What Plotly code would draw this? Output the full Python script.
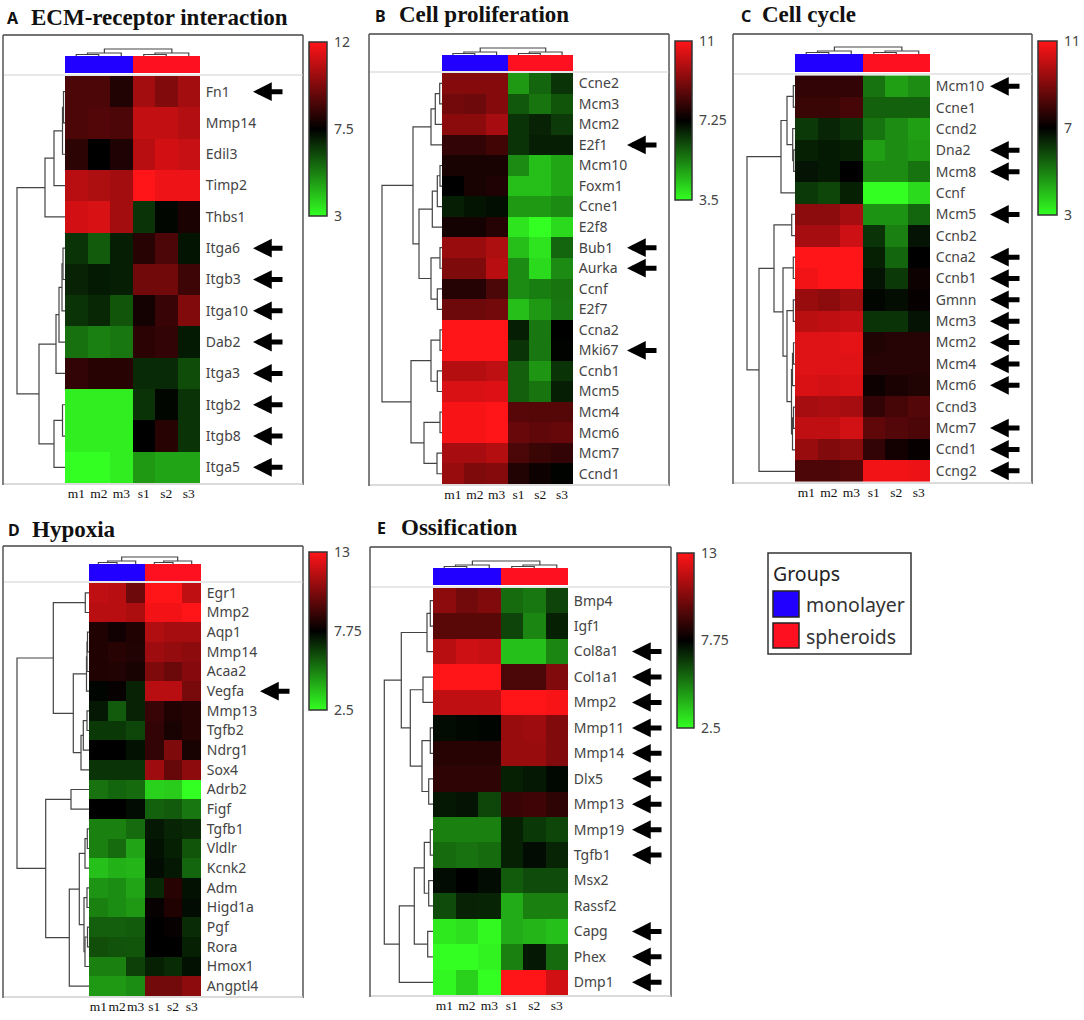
import plotly.graph_objects as go

W, H = 1084, 1020

SAMPLES = ["m1", "m2", "m3", "s1", "s2", "s3"]
GROUP_IDS = [0, 0, 0, 1, 1, 1]
GROUP_NAMES = ["monolayer", "spheroids"]

# sample tree, same shape in every panel: (left, right, height), nodes numbered from 6
COL_LINKS = [(0, 1, 1.5), (6, 2, 3), (3, 4, 1.5), (8, 5, 3), (7, 9, 7)]

# A
ecm_genes = ["Fn1", "Mmp14", "Edil3", "Timp2", "Thbs1", "Itga6", "Itgb3", "Itga10", "Dab2", "Itga3", "Itgb2", "Itgb8", "Itga5"]
ecm_arrows = ["Fn1", "Itga6", "Itgb3", "Itga10", "Dab2", "Itga3", "Itgb2", "Itgb8", "Itga5"]
ecm_values = [
    [8.85, 8.85, 8.1, 10.4, 9.75, 10.4],
    [8.85, 8.95, 8.85, 10.9, 10.9, 10.65],
    [8.3, 7.5, 8.05, 10.75, 11.2, 11.0],
    [10.75, 10.55, 10.4, 12, 11.7, 11.7],
    [11.2, 11.3, 10.4, 6.6, 7.4, 7.95],
    [6.6, 5.9, 6.95, 8.2, 8.85, 7.15],
    [6.9, 7.05, 6.95, 9.5, 9.5, 8.6],
    [6.6, 6.8, 6.0, 7.85, 8.5, 9.75],
    [5.5, 5.25, 5.4, 8.25, 8.4, 7.05],
    [8.4, 8.2, 8.2, 6.75, 6.75, 6.15],
    [3.3, 3.3, 3.3, 6.6, 7.4, 6.6],
    [3.3, 3.3, 3.3, 7.5, 8.2, 6.6],
    [3, 3, 3.3, 4.8, 4.6, 4.6],
]
ecm_links = [(0, 1, 1.5), (13, 2, 2.5), (14, 3, 11), (15, 4, 20), (5, 6, 2), (17, 7, 3), (18, 8, 6), (19, 9, 9),
             (10, 11, 2.5), (21, 12, 11), (20, 22, 26), (16, 23, 48)]

# B
prolif_genes = ["Ccne2", "Mcm3", "Mcm2", "E2f1", "Mcm10", "Foxm1", "Ccne1", "E2f8", "Bub1", "Aurka", "Ccnf", "E2f7",
                "Ccna2", "Mki67", "Ccnb1", "Mcm5", "Mcm4", "Mcm6", "Mcm7", "Ccnd1"]
prolif_arrows = ["E2f1", "Bub1", "Aurka", "Mki67"]
prolif_values = [
    [9.2, 9.2, 9.2, 5.0, 5.75, 6.5],
    [8.95, 8.85, 9.2, 5.95, 5.55, 6.0],
    [9.3, 9.3, 9.7, 6.5, 6.75, 6.4],
    [8.0, 8.0, 8.2, 6.5, 6.8, 6.8],
    [7.6, 7.6, 7.6, 5.2, 4.45, 4.8],
    [7.25, 7.6, 7.7, 4.45, 4.45, 4.8],
    [6.8, 6.95, 7.05, 5.0, 5.0, 5.2],
    [7.55, 7.55, 7.8, 3.9, 3.5, 4.05],
    [9.5, 9.5, 9.8, 4.45, 3.9, 5.75],
    [9.1, 9.1, 9.95, 5.2, 4.05, 5.2],
    [7.8, 7.8, 8.35, 5.2, 5.4, 5.55],
    [8.85, 8.85, 8.95, 4.45, 5.0, 5.5],
    [11, 11, 11, 6.8, 5.5, 7.25],
    [11, 11, 11, 6.5, 5.5, 7.2],
    [9.9, 9.9, 10.05, 5.85, 5.05, 6.5],
    [10.45, 10.45, 10.5, 5.85, 5.55, 6.8],
    [10.9, 10.9, 11, 8.55, 8.5, 8.5],
    [10.9, 10.9, 11, 8.8, 8.65, 8.75],
    [9.7, 9.7, 9.9, 8.35, 8.1, 8.0],
    [9.5, 9.1, 9.2, 7.75, 7.45, 7.2],
]
prolif_links = [(0, 1, 2.3), (20, 2, 6.7), (21, 3, 11), (4, 5, 2), (23, 6, 4.7), (24, 7, 9.7), (8, 9, 2), (10, 11, 4.7),
                (26, 27, 11), (25, 28, 23), (22, 29, 29), (12, 13, 2), (14, 15, 4.7), (31, 32, 11), (16, 17, 2),
                (18, 19, 5), (34, 35, 18), (33, 36, 31), (30, 37, 60)]

# C
cycle_genes = ["Mcm10", "Ccne1", "Ccnd2", "Dna2", "Mcm8", "Ccnf", "Mcm5", "Ccnb2", "Ccna2", "Ccnb1", "Gmnn", "Mcm3",
               "Mcm2", "Mcm4", "Mcm6", "Ccnd3", "Mcm7", "Ccnd1", "Ccng2"]
cycle_arrows = ["Mcm10", "Dna2", "Mcm8", "Mcm5", "Ccna2", "Ccnb1", "Gmnn", "Mcm3", "Mcm2", "Mcm4", "Mcm6", "Mcm7", "Ccnd1", "Ccng2"]
cycle_values = [
    [7.8, 7.8, 7.8, 5.2, 4.5, 4.8],
    [7.9, 7.9, 8.1, 5.5, 5.5, 5.5],
    [6.1, 6.4, 6.2, 5.2, 4.8, 4.5],
    [6.5, 6.6, 6.5, 4.5, 4.8, 4.6],
    [6.7, 6.6, 7.0, 4.8, 4.8, 5.2],
    [6.1, 5.9, 6.5, 3, 3, 3.6],
    [9.2, 9.2, 9.6, 4.7, 4.7, 5.4],
    [9.6, 9.6, 10.2, 6.2, 5, 6.7],
    [11, 11, 11, 6.5, 5.4, 7],
    [10.8, 11, 11, 6.7, 6.1, 7.2],
    [9.4, 9.2, 9.5, 6.9, 6.8, 7.1],
    [9.9, 10, 10.1, 6.2, 6.2, 6.7],
    [10.5, 10.5, 10.6, 7.5, 7.6, 7.6],
    [10.5, 10.5, 10.5, 7.6, 7.6, 7.6],
    [10.4, 10.3, 10.4, 7.2, 7.4, 7.5],
    [9.6, 9.7, 9.6, 7.8, 8.1, 8.3],
    [10, 10, 10.3, 8.5, 8.3, 8.2],
    [9.4, 9, 9.2, 7.8, 7.3, 7.1],
    [8.2, 8.2, 8.3, 10.8, 10.8, 10.7],
]
cycle_links = [(0, 1, 1.7), (3, 4, 1.3), (2, 20, 2.3), (19, 21, 8), (22, 5, 14), (6, 7, 3.3), (8, 9, 1.7), (10, 11, 1.7),
               (12, 13, 1.5), (27, 14, 2.5), (15, 16, 1.5), (29, 17, 2.5), (28, 30, 3.5), (26, 31, 8), (25, 32, 12),
               (24, 33, 21), (34, 18, 36), (23, 35, 48)]

# D
hypoxia_genes = ["Egr1", "Mmp2", "Aqp1", "Mmp14", "Acaa2", "Vegfa", "Mmp13", "Tgfb2", "Ndrg1", "Sox4", "Adrb2", "Figf",
                 "Tgfb1", "Vldlr", "Kcnk2", "Adm", "Higd1a", "Pgf", "Rora", "Hmox1", "Angptl4"]
hypoxia_arrows = ["Vegfa"]
hypoxia_values = [
    [11.7, 11.55, 10, 13, 13, 11.7],
    [11.55, 11.55, 11.3, 12.75, 12.75, 13],
    [8.4, 8.1, 8.4, 11.4, 11.15, 11.15],
    [8.4, 8.55, 8.45, 11, 10.8, 10.65],
    [8.4, 8.45, 8.25, 10.35, 9.95, 10.5],
    [7.65, 7.9, 7.05, 11.55, 11.55, 10.25],
    [7.25, 5.9, 7.05, 8.9, 8.4, 8.55],
    [6.6, 6.6, 6.3, 8.8, 8.25, 8.55],
    [7.75, 7.75, 7.4, 8.8, 10.35, 8.25],
    [6.7, 6.7, 6.7, 11, 9.85, 10.65],
    [5.4, 5.65, 5.55, 3.45, 3.55, 2.5],
    [7.75, 7.75, 7.5, 5.75, 5.9, 5.3],
    [5.1, 5.1, 5.55, 7.25, 7, 6.85],
    [5.1, 5.55, 4.35, 7.4, 7.1, 6],
    [3.8, 4.1, 4, 7.5, 7.25, 5.65],
    [4.7, 4.85, 4.35, 6.95, 8.55, 7.4],
    [5.1, 4.85, 4.6, 7.9, 8.4, 7.5],
    [5.8, 5.8, 5.9, 7.75, 7.9, 6.85],
    [6.15, 6.05, 6, 7.75, 7.75, 7.1],
    [5.1, 5.1, 6.45, 7.1, 6.85, 7.4],
    [4.6, 4.6, 4.85, 10.1, 10.1, 10.65],
]
hypoxia_links = [(0, 1, 3.7), (2, 3, 1.5), (22, 4, 2), (23, 5, 2.5), (6, 7, 2), (25, 8, 5.7), (26, 9, 8), (24, 27, 15.7),
                 (21, 28, 35.7), (10, 11, 18), (12, 13, 1.7), (31, 14, 4), (15, 16, 2), (17, 18, 1.5), (34, 19, 4),
                 (33, 35, 5), (32, 36, 9.7), (37, 20, 19.7), (30, 38, 43.3), (29, 39, 72)]

# E
ossif_genes = ["Bmp4", "Igf1", "Col8a1", "Col1a1", "Mmp2", "Mmp11", "Mmp14", "Dlx5", "Mmp13", "Mmp19", "Tgfb1", "Msx2",
               "Rassf2", "Capg", "Phex", "Dmp1"]
ossif_arrows = ["Col8a1", "Col1a1", "Mmp2", "Mmp11", "Mmp14", "Dlx5", "Mmp13", "Mmp19", "Tgfb1", "Capg", "Phex", "Dmp1"]
ossif_values = [
    [10.65, 10.1, 10.4, 5.55, 5.3, 6.35],
    [9.6, 9.6, 9.6, 6.35, 5, 7.1],
    [11.55, 11.95, 11.85, 3.8, 3.8, 5],
    [13, 13, 13, 9.3, 9.3, 10.4],
    [11.7, 11.7, 11.7, 13, 13, 12.85],
    [7.5, 7.6, 7.65, 10.9, 11, 10.4],
    [8.55, 8.55, 8.55, 10.9, 10.9, 10.4],
    [8.7, 8.7, 8.7, 7.1, 7.25, 7.6],
    [7.25, 7.35, 6.3, 8.9, 9.05, 8.7],
    [5.1, 5.1, 5.1, 7.1, 6.6, 6.3],
    [5.55, 5.4, 5.55, 7.1, 7.5, 7],
    [7.5, 7.75, 7.5, 5.9, 6.2, 6.2],
    [6.2, 7.05, 7, 4.2, 5.1, 5.1],
    [2.95, 3.15, 2.6, 4.2, 4, 3.8],
    [2.5, 2.5, 2.75, 5.1, 7.25, 5.55],
    [2.65, 3.45, 2.5, 13, 13, 12.05],
]
ossif_links = [(0, 1, 2.7), (16, 2, 6), (3, 4, 10), (5, 6, 2.7), (7, 8, 4.3), (19, 20, 11), (18, 21, 22.7), (17, 22, 31.7),
               (9, 10, 2.7), (11, 12, 4.3), (24, 25, 8.7), (13, 14, 5.3), (26, 27, 18.7), (28, 15, 33.7), (23, 29, 48.7)]

# layout of the panels, in pixels of the picture
panels = [
    dict(letter="A", title="ECM-receptor interaction", genes=ecm_genes, values=ecm_values, arrows=ecm_arrows, links=ecm_links,
         ticks=[3, 7.5, 12], frame=(3, 35, 303, 484), sep=75, bar=(56, 73), heat=(65, 76, 200, 483), cbar=(309, 42, 327, 216),
         arrow_x=253, letter_x=13, title_x=31, title_y=17),
    dict(letter="B", title="Cell proliferation", genes=prolif_genes, values=prolif_values, arrows=prolif_arrows, links=prolif_links,
         ticks=[3.5, 7.25, 11], frame=(369, 34, 669, 485), sep=72, bar=(55, 71), heat=(442, 73, 573, 484), cbar=(675, 41, 692, 200),
         arrow_x=627, letter_x=380, title_x=399, title_y=15),
    dict(letter="C", title="Cell cycle", genes=cycle_genes, values=cycle_values, arrows=cycle_arrows, links=cycle_links,
         ticks=[3, 7, 11], frame=(733, 34, 1032, 483), sep=74, bar=(54, 72), heat=(795, 75, 930, 482), cbar=(1038, 41, 1057, 215),
         arrow_x=990, letter_x=746, title_x=762, title_y=15),
    dict(letter="D", title="Hypoxia", genes=hypoxia_genes, values=hypoxia_values, arrows=hypoxia_arrows, links=hypoxia_links,
         ticks=[2.5, 7.75, 13], frame=(3, 546, 303, 997), sep=582, bar=(564, 581), heat=(89, 583, 201, 996), cbar=(309, 552, 327, 710),
         arrow_x=260, letter_x=14, title_x=32, title_y=529),
    dict(letter="E", title="Ossification", genes=ossif_genes, values=ossif_values, arrows=ossif_arrows, links=ossif_links,
         ticks=[2.5, 7.75, 13], frame=(370, 547, 671, 996), sep=587, bar=(568, 585), heat=(433, 588, 568, 995), cbar=(677, 553, 694, 728),
         arrow_x=632, letter_x=381, title_x=401, title_y=527),
]

HEAT_SCALE = [[0, "#33ff22"], [0.5, "#000000"], [1, "#ff1418"]]
GROUP_SCALE = [[0, "#2200ff"], [1, "#ff1020"]]
TEXT = "#444444"
SANS = "Noto Sans"
SERIF = "Liberation Serif"


def px(x):
    return x / W


def py(y):
    return 1 - y / H


def tree_lines(links, n):
    # positions of leaves are their index, a merge sits halfway between its children
    pos = {i: i for i in range(n)}
    height = {i: 0 for i in range(n)}
    hs, ps = [], []
    for k, (a, b, h) in enumerate(links):
        hs += [height[a], h, h, height[b], None]
        ps += [pos[a], pos[a], pos[b], pos[b], None]
        pos[n + k] = (pos[a] + pos[b]) / 2
        height[n + k] = h
    return hs, ps


def hline(x0, x1, y, color, width):
    return dict(type="line", xref="paper", yref="paper", x0=px(x0), x1=px(x1), y0=py(y), y1=py(y),
                line=dict(color=color, width=width))


def vline(x, y0, y1, color, width):
    return dict(type="line", xref="paper", yref="paper", x0=px(x), x1=px(x), y0=py(y0), y1=py(y1),
                line=dict(color=color, width=width))


fig = go.Figure()
shapes = []
annotations = []
axes = {}

for i, p in enumerate(panels):
    n = len(p["genes"])
    hx0, hy0, hx1, hy1 = p["heat"]
    fx0, fy0, fx1, fy1 = p["frame"]
    bar_top, bar_bottom = p["bar"]
    cx0, cy0, cx1, cy1 = p["cbar"]
    heat_id = 3 * i + 1
    top_id = 3 * i + 2
    side_id = 3 * i + 3

    fig.add_trace(go.Heatmap(
        z=p["values"], x=SAMPLES, y=p["genes"], xaxis=f"x{heat_id}", yaxis=f"y{heat_id}",
        colorscale=HEAT_SCALE, zmin=p["ticks"][0], zmax=p["ticks"][2],
        colorbar=dict(
            x=px(cx0), xanchor="left", xpad=0, y=py(cy0), yanchor="top", ypad=0,
            thickness=cx1 - cx0, thicknessmode="pixels", len=cy1 - cy0, lenmode="pixels",
            outlinecolor="#333333", outlinewidth=1.5,
            tickmode="array", tickvals=p["ticks"], ticktext=[str(t) for t in p["ticks"]],
            ticks="outside", ticklen=4, tickcolor="rgba(0,0,0,0)",
            tickfont=dict(family=SANS, size=14, color=TEXT),
        ),
    ))
    axes[f"xaxis{heat_id}"] = dict(
        domain=[px(hx0), px(hx1)], anchor=f"y{heat_id}", tickmode="array", tickvals=SAMPLES, ticktext=SAMPLES,
        ticks="", tickangle=0, showgrid=False, zeroline=False, showline=False,
        tickfont=dict(family=SERIF, size=13.5, color="#111111"),
    )
    axes[f"yaxis{heat_id}"] = dict(
        domain=[py(hy1), py(hy0)], anchor=f"x{heat_id}", side="right", autorange="reversed",
        tickmode="array", tickvals=p["genes"], ticktext=p["genes"],
        ticks="outside", ticklen=2, tickcolor="rgba(0,0,0,0)", showgrid=False, zeroline=False, showline=False,
        tickfont=dict(family=SANS, size=14, color=TEXT),
    )

    # group bar and sample tree share one axis, unit on y is one pixel above the bar
    fig.add_trace(go.Heatmap(
        z=[GROUP_IDS], x=list(range(6)), y0=-(bar_bottom - bar_top) / 2, dy=bar_bottom - bar_top,
        xaxis=f"x{top_id}", yaxis=f"y{top_id}", colorscale=GROUP_SCALE, zmin=0, zmax=1, showscale=False,
    ))
    hs, ps = tree_lines(COL_LINKS, 6)
    fig.add_trace(go.Scatter(
        x=ps, y=hs, mode="lines", xaxis=f"x{top_id}", yaxis=f"y{top_id}", showlegend=False,
        line=dict(color="#444444", width=1.2), hoverinfo="skip",
    ))
    axes[f"xaxis{top_id}"] = dict(domain=[px(hx0), px(hx1)], anchor=f"y{top_id}", range=[-0.5, 5.5], visible=False)
    axes[f"yaxis{top_id}"] = dict(domain=[py(bar_bottom), py(fy0 + 2)], anchor=f"x{top_id}",
                                  range=[-(bar_bottom - bar_top), bar_top - fy0 - 2], visible=False)

    # gene tree, unit on x is one pixel to the left of the heatmap
    hs, ps = tree_lines(p["links"], n)
    fig.add_trace(go.Scatter(
        x=hs, y=ps, mode="lines", xaxis=f"x{side_id}", yaxis=f"y{side_id}", showlegend=False,
        line=dict(color="#444444", width=1.2), hoverinfo="skip",
    ))
    axes[f"xaxis{side_id}"] = dict(domain=[px(fx0 + 2), px(hx0)], anchor=f"y{side_id}", range=[hx0 - fx0 - 2, 0], visible=False)
    axes[f"yaxis{side_id}"] = dict(domain=[py(hy1), py(hy0)], anchor=f"x{side_id}", range=[n - 0.5, -0.5], visible=False)

    # frame
    shapes += [
        hline(fx0, fx1, fy0, "#444444", 1.5),
        vline(fx0, fy0, fy1 + 1, "#555555", 1.5),
        vline(fx1, fy0, fy1 + 1, "#555555", 1.5),
        hline(fx0 + 1, fx1, p["sep"], "#cfcfcf", 1.2),
        hline(fx0 + 1, fx1, fy1, "#cfcfcf", 1.5),
    ]

    # panel letter and title
    annotations.append(dict(text=p["letter"], xref="paper", yref="paper", x=px(p["letter_x"]), y=py(p["title_y"] + 1),
                            xanchor="center", yanchor="middle", showarrow=False,
                            font=dict(family=SANS, size=16, color="#111111", weight="bold")))
    annotations.append(dict(text=f"<b>{p['title']}</b>", xref="paper", yref="paper", x=px(p["title_x"] - 2), y=py(p["title_y"]),
                            xanchor="left", yanchor="middle", showarrow=False,
                            font=dict(family=SERIF, size=23, color="#111111")))

    # arrows next to marked genes
    for gene in p["arrows"]:
        annotations.append(dict(text="", xref="paper", yref=f"y{heat_id}", x=px(p["arrow_x"]), y=gene,
                                ax=31, ay=0, showarrow=True, arrowhead=2, arrowsize=0.75, arrowwidth=5,
                                arrowcolor="#000000"))

# groups box
shapes += [
    dict(type="rect", xref="paper", yref="paper", x0=px(768), x1=px(911), y0=py(654), y1=py(553),
         line=dict(color="#333333", width=1.5), fillcolor="white"),
    dict(type="rect", xref="paper", yref="paper", x0=px(773), x1=px(799), y0=py(617), y1=py(591),
         line=dict(color="#222222", width=1.5), fillcolor="#2200ff"),
    dict(type="rect", xref="paper", yref="paper", x0=px(773), x1=px(799), y0=py(648), y1=py(623),
         line=dict(color="#222222", width=1.5), fillcolor="#ff1020"),
]
annotations.append(dict(text="Groups", xref="paper", yref="paper", x=px(771), y=py(573), xanchor="left", yanchor="middle",
                        showarrow=False, font=dict(family=SANS, size=19.5, color="#222222")))
annotations.append(dict(text=GROUP_NAMES[0], xref="paper", yref="paper", x=px(804), y=py(604), xanchor="left", yanchor="middle",
                        showarrow=False, font=dict(family=SANS, size=19.5, color="#333333")))
annotations.append(dict(text=GROUP_NAMES[1], xref="paper", yref="paper", x=px(804), y=py(636), xanchor="left", yanchor="middle",
                        showarrow=False, font=dict(family=SANS, size=19.5, color="#333333")))

fig.update_layout(
    width=W, height=H, margin=dict(l=0, r=0, t=0, b=0),
    paper_bgcolor="white", plot_bgcolor="rgba(0,0,0,0)", showlegend=False,
    shapes=shapes, annotations=annotations, **axes,
)

fig.write_html("out.html", config=dict(displayModeBar=False),
               post_script="document.body.style.margin='0';document.body.style.overflow='hidden';")
